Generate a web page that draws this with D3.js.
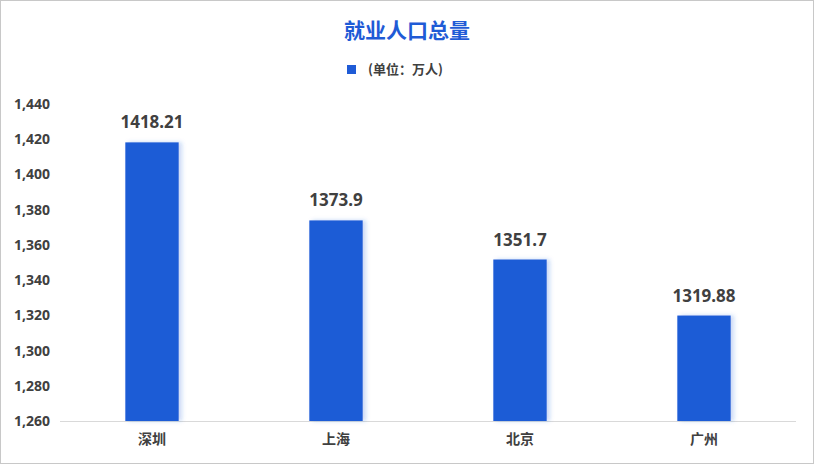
<!DOCTYPE html>
<html><head><meta charset="utf-8">
<script src="https://cdn.jsdelivr.net/npm/d3@7"></script>
<style>body{margin:0;background:#fff;font-family:"Noto Sans CJK SC","Noto Sans",sans-serif;}</style>
</head><body><svg id="c" width="814" height="464"></svg>
<script>
var cities=["深圳","上海","北京","广州"];
var values=[1418.21,1373.9,1351.7,1319.88];
var labels=["1418.21","1373.9","1351.7","1319.88"];
var ticks=[1260,1280,1300,1320,1340,1360,1380,1400,1420,1440];

var svg=d3.select("#c");
svg.append("rect").attr("x",0.5).attr("y",0.5).attr("width",813).attr("height",463)
  .attr("fill","#fff").attr("stroke","#c8c8c8");
var defs=svg.append("defs");
var f=defs.append("filter").attr("id","sh").attr("x","-20%").attr("y","-5%").attr("width","150%").attr("height","110%");
f.append("feDropShadow").attr("dx",3).attr("dy",0).attr("stdDeviation",2).attr("flood-color","#1f5bd6").attr("flood-opacity",0.25);

var x=d3.scaleBand().domain(cities).range([60,796]).paddingInner(0.71).paddingOuter(0.355);
var y=d3.scaleLinear().domain([1260,1440]).range([421,104]);

svg.append("text").attr("x",407).attr("y",38).attr("text-anchor","middle")
  .attr("font-size",21).attr("font-weight","bold").attr("fill","#1f5bd6").text("就业人口总量");
svg.append("rect").attr("x",347).attr("y",65).attr("width",9).attr("height",9).attr("fill","#1f5bd6");
svg.append("text").attr("x",368).attr("y",74).attr("font-size",13).attr("font-weight","bold").attr("fill","#404040").text("(单位：万人)");

var ya=svg.append("g").attr("transform","translate(50,0)")
  .call(d3.axisLeft(y).tickValues(ticks).tickSize(0).tickPadding(0));
ya.select(".domain").remove();
ya.selectAll("text").attr("font-size",14).attr("font-weight","bold").attr("fill","#404040")
  .attr("font-family","'Noto Sans',sans-serif");

svg.append("line").attr("x1",60).attr("x2",796).attr("y1",421.5).attr("y2",421.5).attr("stroke","#d9d9d9");

svg.selectAll(".bar").data(values).enter().append("rect")
  .attr("x",function(d,i){return x(cities[i]);}).attr("width",x.bandwidth())
  .attr("y",function(d){return y(d);}).attr("height",function(d){return 421-y(d);})
  .attr("fill","#1f5bd6").attr("filter","url(#sh)");
svg.selectAll(".lbl").data(values).enter().append("text")
  .attr("x",function(d,i){return x(cities[i])+x.bandwidth()/2;}).attr("y",function(d){return y(d)-14;})
  .attr("text-anchor","middle").attr("font-size",17).attr("font-weight","bold").attr("fill","#404040")
  .attr("font-family","'Noto Sans',sans-serif")
  .text(function(d,i){return labels[i];});

var xa=svg.append("g").attr("transform","translate(0,421)").call(d3.axisBottom(x).tickSize(0).tickPadding(13));
xa.select(".domain").remove();
xa.selectAll("text").attr("font-size",14).attr("font-weight","bold").attr("fill","#404040")
  .attr("font-family","'Noto Sans CJK SC',sans-serif");
</script></body></html>
